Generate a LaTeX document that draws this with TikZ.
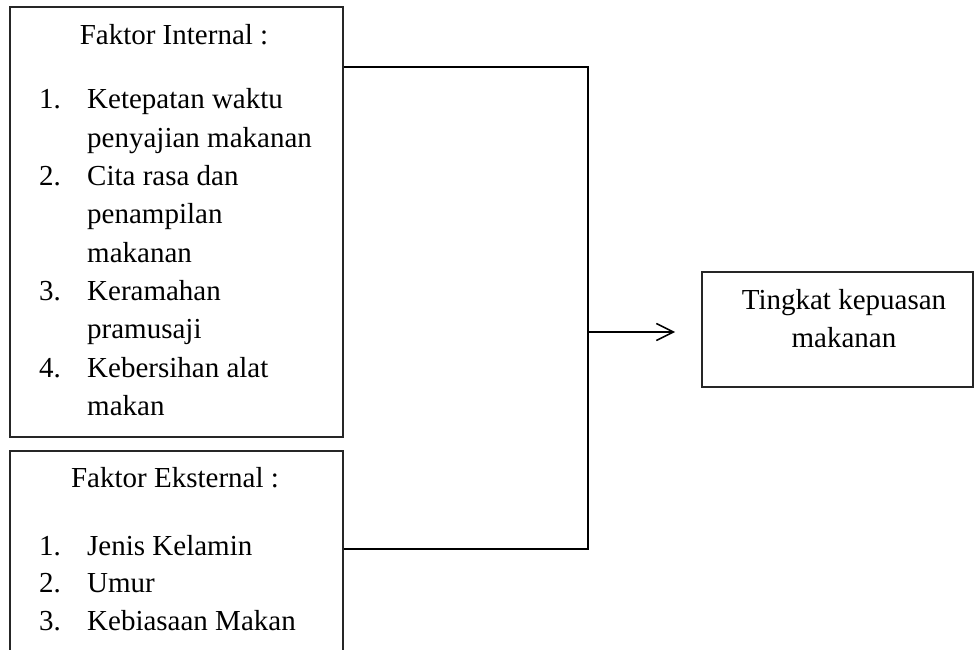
\documentclass[tikz,border=0pt]{standalone}
\usepackage{fontspec}
\setmainfont{Liberation Serif}
\usetikzlibrary{arrows.meta}
\begin{document}
\begin{tikzpicture}[x=1pt,y=-1pt,
  box/.style={draw=black!85, line width=1.1pt, inner sep=0pt, rectangle},
  txt/.style={inner sep=0pt, font=\fontsize{29}{35}\selectfont, text=black},
  conn/.style={draw=black, line width=1.8pt},
  arr/.style={draw=black, line width=1.5pt, -{Straight Barb[length=17pt,width=17pt,line width=1.5pt]}}]
\useasboundingbox (0,0) rectangle (974,650);
\clip (0,0) rectangle (974,650);
% boxes
\node[box, minimum width=333pt, minimum height=430pt] (int) at (176.5,222) {};
\node[box, minimum width=333pt, minimum height=229pt] (ext) at (176.5,565.5) {};
\node[box, minimum width=271pt, minimum height=115pt] (out) at (837.5,329.5) {};
% internal texts
\node[txt, anchor=base] (it) at (174,45) {Faktor Internal :};
\node[txt, anchor=base west] (n1) at (39,109) {1.};
\node[txt, anchor=base west] (a1) at (87,109) {Ketepatan waktu};
\node[txt, anchor=base west] (a2) at (87,147.3) {penyajian makanan};
\node[txt, anchor=base west] (n2) at (39,185.6) {2.};
\node[txt, anchor=base west] (b1) at (87,185.6) {Cita rasa dan};
\node[txt, anchor=base west] (b2) at (87,223.9) {penampilan};
\node[txt, anchor=base west] (b3) at (87,262.2) {makanan};
\node[txt, anchor=base west] (n3) at (39,300.5) {3.};
\node[txt, anchor=base west] (c1) at (87,300.5) {Keramahan};
\node[txt, anchor=base west] (c2) at (87,338.8) {pramusaji};
\node[txt, anchor=base west] (n4) at (39,377.1) {4.};
\node[txt, anchor=base west] (d1) at (87,377.1) {Kebersihan alat};
\node[txt, anchor=base west] (d2) at (87,415.4) {makan};
% external texts
\node[txt, anchor=base] (et) at (175,487) {Faktor Eksternal :};
\node[txt, anchor=base west] (m1) at (39,555) {1.};
\node[txt, anchor=base west] (e1) at (87,555) {Jenis Kelamin};
\node[txt, anchor=base west] (m2) at (39,592.5) {2.};
\node[txt, anchor=base west] (e2) at (87,592.5) {Umur};
\node[txt, anchor=base west] (m3) at (39,630) {3.};
\node[txt, anchor=base west] (e3) at (87,630) {Kebiasaan Makan};
% output texts
\node[txt, anchor=base] (o1) at (844,309) {Tingkat kepuasan};
\node[txt, anchor=base] (o2) at (844,347) {makanan};
% connectors
\coordinate (jt) at (588,67);
\coordinate (jb) at (588,549);
\coordinate (jm) at (588,332);
\coordinate (tip) at (675,332);
\draw[conn] (int.east |- jt) -- (jt) -- (jb) -- (ext.east |- jb);
\draw[arr] (jm) -- (tip);
\end{tikzpicture}
\end{document}
